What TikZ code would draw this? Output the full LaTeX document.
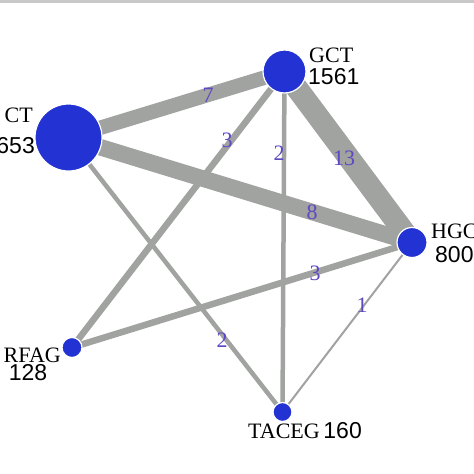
\documentclass[tikz,border=0pt]{standalone}
\usepackage{fontspec}
\setmainfont{Liberation Serif}
\newfontfamily\numfont{Liberation Sans}
\usetikzlibrary{backgrounds}
\definecolor{nodeblue}{RGB}{35,50,210}
\definecolor{edgegray}{RGB}{160,163,160}
\definecolor{lblpurple}{RGB}{95,70,195}
\definecolor{topgray}{RGB}{200,200,200}
\tikzset{
  trt/.style={circle,fill=nodeblue,draw=white,line width=1.2pt,inner sep=0pt,minimum size=#1},
  nm/.style={inner sep=0pt,font=\fontsize{22}{22}\selectfont},
  num/.style={inner sep=0pt,font=\numfont\fontsize{23}{23}\selectfont},
  elbl/.style={inner sep=0pt,text=lblpurple,font=\fontsize{22}{22}\selectfont},
  link/.style={draw=edgegray,line width=#1}
}
\begin{document}
\begin{tikzpicture}[x=1pt,y=-1pt]
\useasboundingbox (0,0) rectangle (474,474);
% treatment nodes
\node[trt=67pt] (ct) at (68.5,137.5) {};
\node[trt=43pt] (gct) at (284.5,71.5) {};
\node[trt=30pt] (hgc) at (412,242.5) {};
\node[trt=20pt] (rfag) at (72,347.5) {};
\node[trt=19pt] (taceg) at (282.5,412) {};
% node labels
\node[nm,anchor=base east] (lct) at (33,122) {CT};
\node[num,anchor=base east] (nct) at (35,153) {653};
\node[nm,anchor=base west] (lgct) at (309,62) {GCT};
\node[num,anchor=base west] (ngct) at (308,84) {1561};
\node[nm,anchor=base west] (lhgc) at (431,238) {HGC};
\node[num,anchor=base west] (nhgc) at (435,262) {800};
\node[nm,anchor=base east] (lrfag) at (61,362) {RFAG};
\node[num,anchor=base] (nrfag) at (28,380) {128};
\node[nm,anchor=base west] (ltaceg) at (248,438) {TACEG\,{\numfont\fontsize{23}{23}\selectfont 160}};
% background and edges
\begin{scope}[on background layer]
\fill[white] (0,0) rectangle (474,474);
\fill[topgray] (0,0) rectangle (474,2.5);
\draw[link=14.5pt] (ct.center) -- (gct.center);
\draw[link=16.5pt] (ct.center) -- (hgc.center);
\draw[link=22pt] (gct.center) -- (hgc.center);
\draw[link=6.5pt] (gct.center) -- (rfag.center);
\draw[link=4.5pt] (gct.center) -- (taceg.center);
\draw[link=6.5pt] (hgc.center) -- (rfag.center);
\draw[link=2pt] (hgc.center) -- (taceg.center);
\draw[link=4.5pt] (ct.center) -- (taceg.center);
\end{scope}
% edge labels
\node[elbl] (e1) at (208,95) {7};
\node[elbl] (e2) at (344,158) {13};
\node[elbl] (e3) at (312,212) {8};
\node[elbl] (e4) at (227,140) {3};
\node[elbl] (e5) at (279,153) {2};
\node[elbl] (e6) at (315,273) {3};
\node[elbl] (e7) at (362,305) {1};
\node[elbl] (e8) at (222,340) {2};
\end{tikzpicture}
\end{document}
